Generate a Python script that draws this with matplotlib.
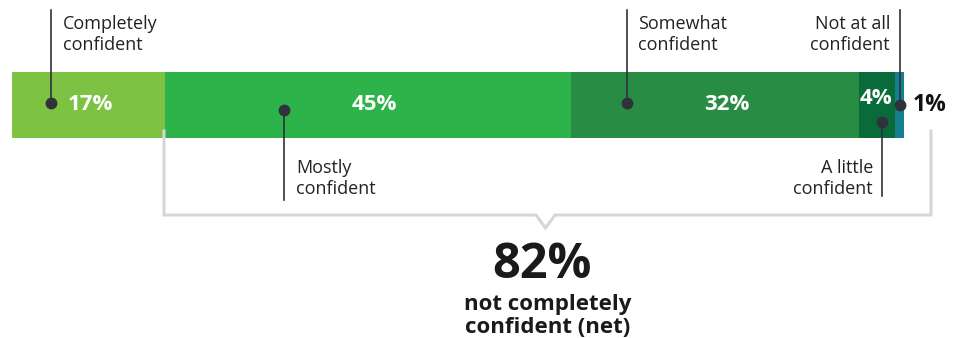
import matplotlib
matplotlib.use("Agg")
import matplotlib.pyplot as plt
import numpy as np

# Confidence levels and shares (%)
categories = ["Completely confident", "Mostly confident", "Somewhat confident",
              "A little confident", "Not at all confident"]
values = [17, 45, 32, 4, 1]
value_labels = ["17%", "45%", "32%", "4%", "1%"]
colors = ["#7dc242", "#2db34a", "#298c45", "#086b39", "#14808f"]
net_value = "82%"
net_label = "not completely\nconfident (net)"

plt.rcParams["font.family"] = ["Open Sans", "DejaVu Sans"]

W, H = 961, 338
fig = plt.figure(figsize=(W / 100, H / 100), dpi=100)
ax = fig.add_axes([0, 0, 1, 1])

# x axis in percent, y axis in pixel rows (top = 0)
x0_px, px_per_pct = 12, 892 / sum(values)
ax.set_xlim(-x0_px / px_per_pct, (W - x0_px) / px_per_pct)
ax.set_ylim(H, 0)
ax.axis("off")


def pct(xpx):
    return (xpx - x0_px) / px_per_pct


bar_y, bar_h = 105, 66
lefts = np.concatenate([[0], np.cumsum(values)[:-1]])
ax.barh(bar_y, values, left=lefts, height=bar_h, color=colors, edgecolor="none")

# value labels
val_pos = [(90, 105), (374, 105), (727, 105), (876, 99)]
for (xp, yp), lab in zip(val_pos, value_labels[:4]):
    ax.text(pct(xp), yp, lab, color="white", fontsize=16, fontweight="bold",
            ha="center", va="center")
ax.text(pct(913), 105, value_labels[4], color="#111111", fontsize=16.5,
        fontweight="bold", ha="left", va="center")

# leader lines with dots and category names
lead = "#2f323b"
txt = "#222222"
leaders = [
    # dot x, dot y, end y, text x, text y, ha, va
    (51, 103, 10, 63, 15, "left", "top"),
    (284, 110, 200, 296, 159, "left", "top"),
    (627, 103, 10, 638, 15, "left", "top"),
    (882, 122, 196, 873, 159, "right", "top"),
    (900, 105, 10, 890, 15, "right", "top"),
]
names = ["Completely\nconfident", "Mostly\nconfident", "Somewhat\nconfident",
         "A little\nconfident", "Not at all\nconfident"]
for (dx, dy, ey, tx, ty, ha, va), name in zip(leaders, names):
    ax.plot([pct(dx), pct(dx)], [dy, ey], color=lead, lw=1.2, zorder=3)
    ax.plot(pct(dx), dy, "o", color=lead, ms=7.5, zorder=4)
    ax.text(pct(tx), ty, name, color=txt, fontsize=13, ha=ha, va=va,
            linespacing=1.22)

# bracket grouping everything except "Completely confident"
br_y = 215
bx = [pct(164), pct(164), pct(536), pct(545.5), pct(555), pct(931), pct(931)]
by = [131, br_y, br_y, 228, br_y, br_y, 131]
ax.plot(bx, by, color="#d6d6d6", lw=2.2, solid_joinstyle="miter", zorder=1)

# net summary
ax.text(pct(542), 266, net_value, color="#1a1a1a", fontsize=35,
        fontweight="bold", ha="center", va="center")
ax.text(pct(548), 316, net_label, color="#1a1a1a", fontsize=16,
        fontweight="bold", ha="center", va="center", linespacing=1.15)

fig.savefig("out.png", dpi=100)
